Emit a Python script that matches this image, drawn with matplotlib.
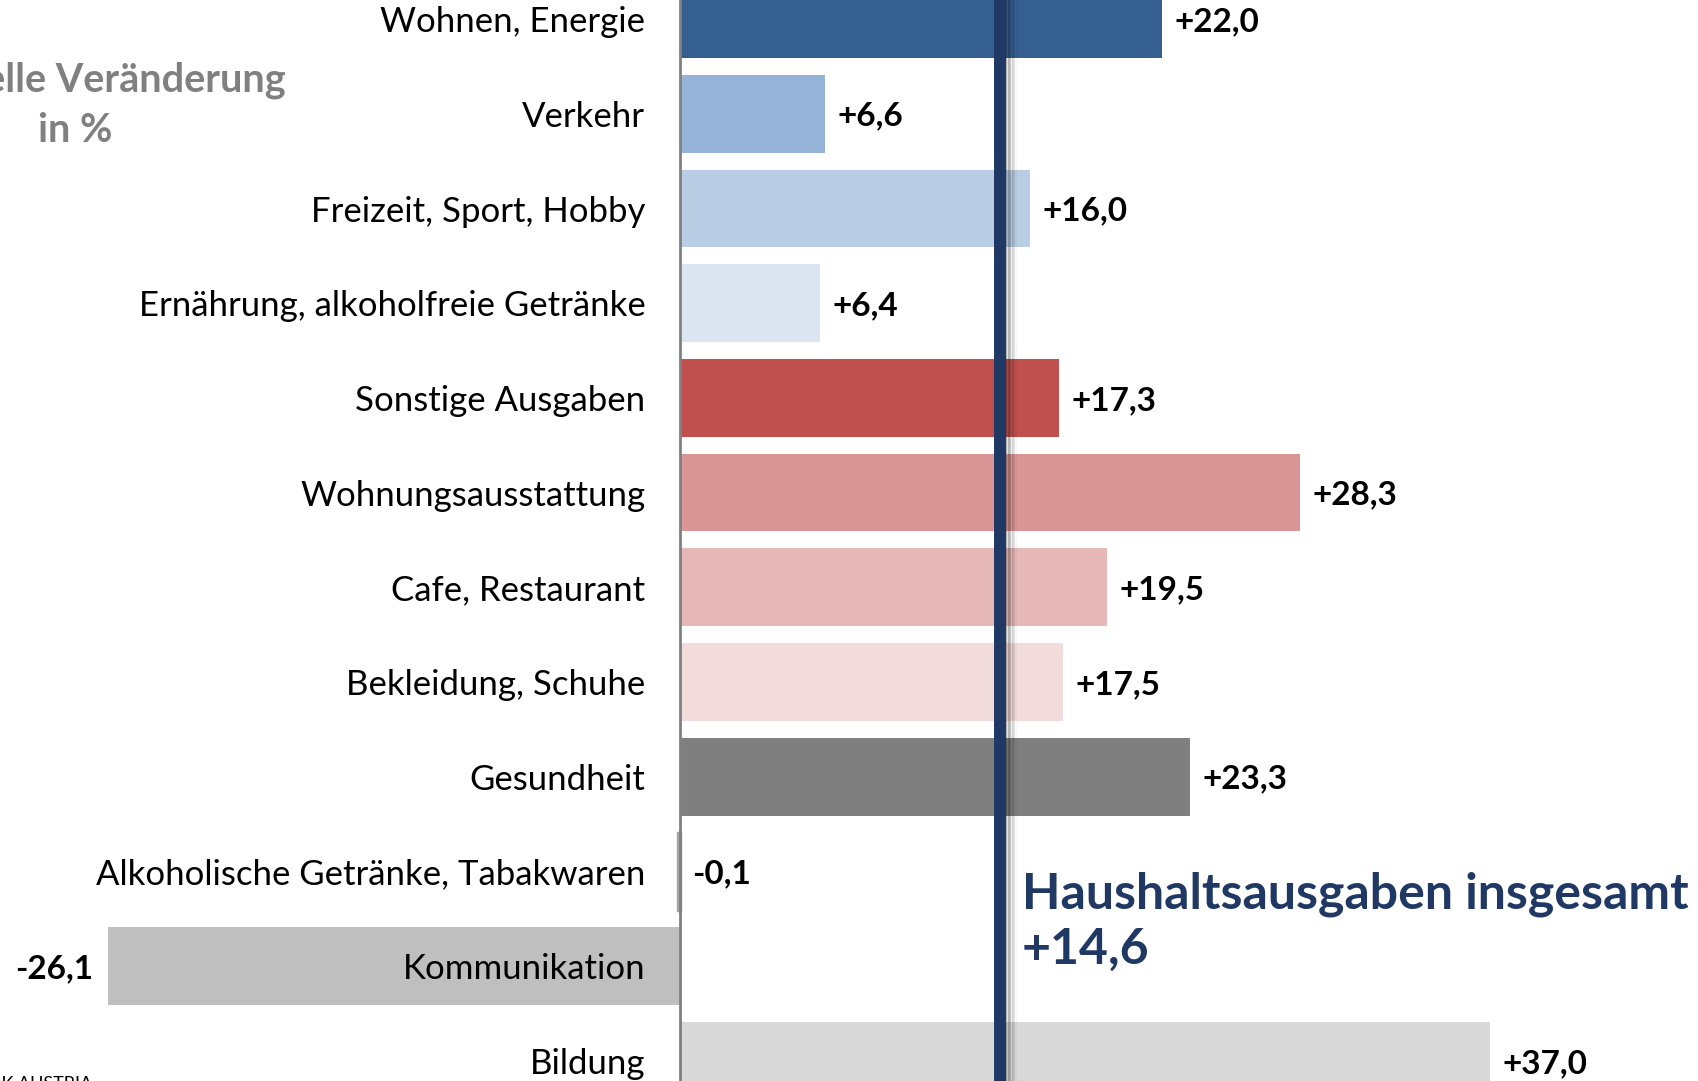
import numpy as np
import matplotlib.pyplot as plt

# Haushaltsausgaben: nominelle Veraenderung in %
categories = ['Wohnen, Energie', 'Verkehr', 'Freizeit, Sport, Hobby',
              'Ernährung, alkoholfreie Getränke', 'Sonstige Ausgaben',
              'Wohnungsausstattung', 'Cafe, Restaurant', 'Bekleidung, Schuhe',
              'Gesundheit', 'Alkoholische Getränke, Tabakwaren',
              'Kommunikation', 'Bildung']
changes = [22.0, 6.6, 16.0, 6.4, 17.3, 28.3, 19.5, 17.5, 23.3, -0.1, -26.1, 37.0]
bar_colors = ['#365F91', '#95B3D7', '#B9CDE5', '#DCE6F2', '#C0504D', '#D99694',
              '#E6B9B8', '#F2DCDB', '#7F7F7F', '#A6A6A6', '#BFBFBF', '#D9D9D9']
total = 14.6

plt.rcParams['font.family'] = ['Lato', 'DejaVu Sans']

fig = plt.figure(figsize=(16.99, 10.81), dpi=100)
ax = fig.add_axes([0, 0, 1, 1])
ax.spines['left'].set_position(('data', 0))
ax.set_axisbelow(False)  # labels on top of the Kommunikation bar

y = np.arange(len(categories))
bars = ax.barh(y, changes, height=0.82, color=bar_colors, zorder=2)
# tiny bar is barely visible otherwise
bars[9].set_edgecolor(bar_colors[9])
bars[9].set_linewidth(2.5)

for i, v in enumerate(changes):
    txt = f'{v:+.1f}'.replace('.', ',')
    if v > -1:
        ax.annotate(txt, (max(v, 0), i), xytext=(9, 0), textcoords='offset points',
                    ha='left', va='center_baseline', fontsize=24, fontweight='bold', zorder=5)
    else:
        ax.annotate(txt, (v, i), xytext=(-11, 0), textcoords='offset points',
                    ha='right', va='center_baseline', fontsize=24, fontweight='bold', zorder=5)

# total line with soft shadow
for k in range(8):
    ax.axvline(total + 0.3 + k * 0.06, color='black', alpha=0.3 * (1 - k / 8),
               lw=1.0, zorder=3)
ax.axvline(total, color='#1F3864', lw=8.6, zorder=4)
ax.text(15.6, 9.53, 'Haushaltsausgaben insgesamt\n' + f'{total:+.1f}'.replace('.', ','),
        color='#1F3864', fontsize=36, fontweight='bold', ha='left', va='center',
        linespacing=1.25, zorder=5)

ax.set_xlim(-31.05, 46.53)
ax.set_ylim(11.213, -0.2017)
ax.set_yticks(y)
ax.set_yticklabels(categories, fontsize=25)
for lab in ax.get_yticklabels():
    lab.set_verticalalignment('center_baseline')
ax.tick_params(axis='y', length=0, pad=25)
ax.set_xticks([])
for s in ['top', 'right', 'bottom']:
    ax.spines[s].set_visible(False)
ax.spines['left'].set_color('#808080')
ax.spines['left'].set_linewidth(2)
ax.spines['left'].set_zorder(3)

fig.text(75 / 1699, 1 - 105 / 1081, 'Nominelle Veränderung\nin %', color='#808080',
         fontsize=28.5, fontweight='bold', ha='center', va='center', linespacing=1.45)
fig.text(92 / 1699, 1 - 1076 / 1081, 'STATISTIK AUSTRIA', fontsize=13,
         ha='right', va='top')

plt.savefig('out.png')
